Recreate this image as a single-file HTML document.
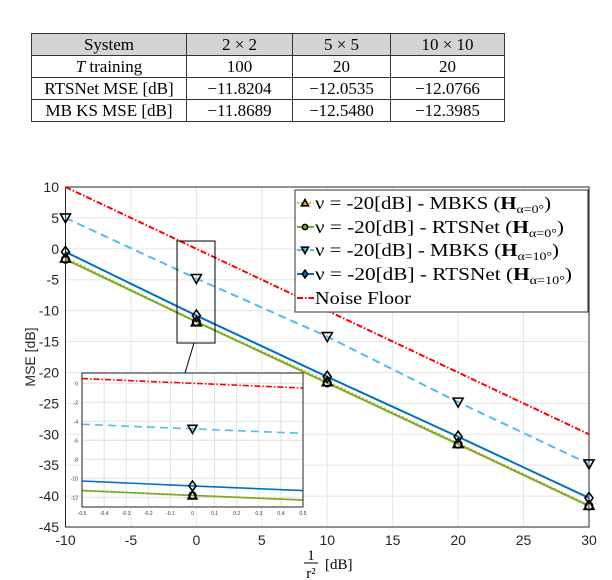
<!DOCTYPE html>
<html><head><meta charset="utf-8"><style>
body{margin:0;width:612px;height:580px;background:#fff;overflow:hidden;position:relative;font-family:"Liberation Serif",serif}
table{position:absolute;left:31px;top:33px;border-collapse:collapse;font-size:17px}
td{border:1.3px solid #333;text-align:center;height:21px;padding:0;line-height:20px}
tr.h td{background:#d4d4d4}
svg{position:absolute;left:0;top:0}
</style></head><body>
<table>
<tr class="h"><td style="width:154px">System</td><td style="width:105px">2 × 2</td><td style="width:97px">5 × 5</td><td style="width:113px">10 × 10</td></tr>
<tr><td><i>T</i> training</td><td>100</td><td>20</td><td>20</td></tr>
<tr><td>RTSNet MSE [dB]</td><td>−11.8204</td><td>−12.0535</td><td>−12.0766</td></tr>
<tr><td>MB KS MSE [dB]</td><td>−11.8689</td><td>−12.5480</td><td>−12.3985</td></tr>
</table>
<svg id="c" width="612" height="580"></svg>
<script>
const xs=[-10,0,10,20,30];
const noiseFloor=[10,0,-10,-20,-30];
const mbks0=[-1.5,-11.8,-21.5,-31.5,-41.5];
const rts0=[-1.7,-11.8,-21.7,-31.6,-41.6];
const mbks10=[5,-4.8,-14.2,-24.8,-34.8];
const rts10=[-0.5,-10.8,-20.7,-30.4,-40.3];
const xTicks=[-10,-5,0,5,10,15,20,25,30];
const yTicks=[10,5,0,-5,-10,-15,-20,-25,-30,-35,-40,-45];
const inXTicks=[-0.5,-0.4,-0.3,-0.2,-0.1,0,0.1,0.2,0.3,0.4,0.5];
const inYTicks=[0,-2,-4,-6,-8,-10,-12];
const NS='http://www.w3.org/2000/svg';
const svg=document.getElementById('c');
function el(t,a,p){const e=document.createElementNS(NS,t);for(const k in a)e.setAttribute(k,a[k]);(p||svg).appendChild(e);return e;}
const X=v=>65.5+(v+10)*(589-65.5)/40;
const Y=v=>187+(10-v)*(527-187)/55;
for(const t of xTicks){const g=el('line',{x1:X(t),x2:X(t),y1:187,y2:527,stroke:'#e5e5e5','stroke-width':1});
const tx=el('text',{x:X(t),y:545,'text-anchor':'middle','font-size':14,'font-family':'Liberation Sans, sans-serif',fill:'#262626'});tx.textContent=t;}
for(const t of yTicks){const g=el('line',{x1:65.5,x2:589,y1:Y(t),y2:Y(t),stroke:'#e5e5e5','stroke-width':1});
const tx=el('text',{x:59,y:Y(t)+5,'text-anchor':'end','font-size':14,'font-family':'Liberation Sans, sans-serif',fill:'#262626'});tx.textContent=t;}
const ax=el('rect',{x:65.5,y:187,width:523.5,height:340,fill:'none',stroke:'#262626','stroke-width':1});

const series=[
{n:'noise-floor',d:noiseFloor,c:'#ff0000',dash:'6 2 1.5 2',m:null,w:2},
{n:'mbks-10',d:mbks10,c:'#4dbeee',dash:'8 5',m:'down',f:'#4dbeee',w:2},
{n:'rtsnet-10',d:rts10,c:'#0072bd',dash:'',m:'diamond',f:'#0072bd',w:2},
{n:'mbks-0',d:mbks0,c:'#edb120',dash:'2 2',m:'up',f:'#edb120',w:2.5},
{n:'rtsnet-0',d:rts0,c:'#77ac30',dash:'',m:'circle',f:'#77ac30',w:2}];
function marker(type,cx,cy,fill,s,parent){let e;
if(type==='up')e=el('path',{d:`M${cx},${cy-s}L${cx+s},${cy+s*0.8}L${cx-s},${cy+s*0.8}Z`},parent);
else if(type==='down')e=el('path',{d:`M${cx},${cy+s}L${cx+s},${cy-s*0.8}L${cx-s},${cy-s*0.8}Z`},parent);
else if(type==='diamond')e=el('path',{d:`M${cx},${cy-s*1.1}L${cx+s*0.8},${cy}L${cx},${cy+s*1.1}L${cx-s*0.8},${cy}Z`},parent);
else e=el('circle',{cx:cx,cy:cy,r:s*0.75},parent);
e.setAttribute('fill',fill);e.setAttribute('stroke','#000');e.setAttribute('stroke-width',1.6);return e;}
for(const s of series){
const p=el('polyline',{points:xs.map((x,i)=>X(x)+','+Y(s.d[i])).join(' '),fill:'none',stroke:s.c,'stroke-width':s.w,'stroke-dasharray':s.dash});
}
for(const s of series){if(!s.m)continue;xs.forEach((x,i)=>{const m=marker(s.m,X(x),Y(s.d[i]),'none',5);
});}
const zr=el('rect',{x:177,y:241,width:38,height:102,fill:'none',stroke:'#000','stroke-width':1});

const zl=el('line',{x1:194,y1:343,x2:185,y2:373,stroke:'#000','stroke-width':1});

const g=el('g',{});
const IX=v=>82+(v+0.5)*221, IY=v=>383.3+(0-v)*9.5;
el('rect',{x:82,y:373,width:221,height:134,fill:'#fff'},g);
for(const t of inXTicks){el('line',{x1:IX(t),x2:IX(t),y1:373,y2:507,stroke:'#e0e0e0'},g);
const tx=el('text',{x:IX(t),y:515,'text-anchor':'middle','font-size':5,'font-family':'Liberation Sans, sans-serif',fill:'#333'},g);tx.textContent=t;}
for(const t of inYTicks){el('line',{x1:82,x2:303,y1:IY(t),y2:IY(t),stroke:'#e0e0e0'},g);
const tx=el('text',{x:78,y:IY(t)+2,'text-anchor':'end','font-size':5,'font-family':'Liberation Sans, sans-serif',fill:'#333'},g);tx.textContent=t;}
const lin=(d,x)=>{const i=x<0?0:1;const x0=xs[i],x1=xs[i+1];return d[i]+(d[i+1]-d[i])*(x-x0)/(x1-x0);};
for(const s of series){const pts=[-0.5,0,0.5].map(x=>IX(x)+','+IY(lin(s.d,x))).join(' ');
const p=el('polyline',{points:pts,fill:'none',stroke:s.c,'stroke-width':s.w*0.8,'stroke-dasharray':s.dash},g);}
for(const s of series){if(!s.m)continue;const m=marker(s.m,IX(0),IY(s.d[1]),'none',4.5,g);}
el('rect',{x:82,y:373,width:221,height:134,fill:'none',stroke:'#222','stroke-width':1},g);
const lg=el('g',{});
el('rect',{x:295,y:190,width:293,height:122,fill:'#fff',stroke:'#333','stroke-width':1},lg);
const labs=[['ν = -20[dB] - MBKS (','α=0°',')'],['ν = -20[dB] - RTSNet (','α=0°',')'],['ν = -20[dB] - MBKS (','α=10°',')'],['ν = -20[dB] - RTSNet (','α=10°',')'],['Noise Floor','','']];
const lens=[236,249,244,257,96];
const ls=[series[3],series[4],series[1],series[2],series[0]];
const ry=[203,227,250,274,298];
labs.forEach((l,i)=>{const s=ls[i],y=ry[i];
el('line',{x1:297,x2:314,y1:y,y2:y,stroke:s.c,'stroke-width':2,'stroke-dasharray':s.dash},lg);
if(s.m)marker(s.m,305,y,s.f,3.5,lg);
const t=el('text',{x:315,y:y+6,'font-size':18,fill:'#000','font-family':'Liberation Serif, serif',textLength:lens[i],lengthAdjust:'spacingAndGlyphs'},lg);

const a=el('tspan',{},t);a.textContent=l[0];
if(l[1]){const b=el('tspan',{'font-weight':'bold'},t);b.textContent='H';const c=el('tspan',{'font-size':12,dy:4},t);c.textContent=l[1];const d=el('tspan',{dy:-4},t);d.textContent=l[2];}
});
const yl=el('text',{x:0,y:0,'font-size':14,'font-family':'Liberation Sans, sans-serif',fill:'#262626','text-anchor':'middle',transform:'translate(35,357) rotate(-90)'});yl.textContent='MSE [dB]';
const xg=el('g',{});
const t1=el('text',{x:311,y:560,'font-size':15,'text-anchor':'middle'},xg);t1.textContent='1';
el('line',{x1:304,x2:318,y1:563,y2:563,stroke:'#000','stroke-width':1},xg);
const t2=el('text',{x:311,y:578,'font-size':15,'text-anchor':'middle'},xg);t2.textContent='r²';
const t3=el('text',{x:325,y:569,'font-size':15},xg);t3.textContent='[dB]';
</script>
</body></html>
